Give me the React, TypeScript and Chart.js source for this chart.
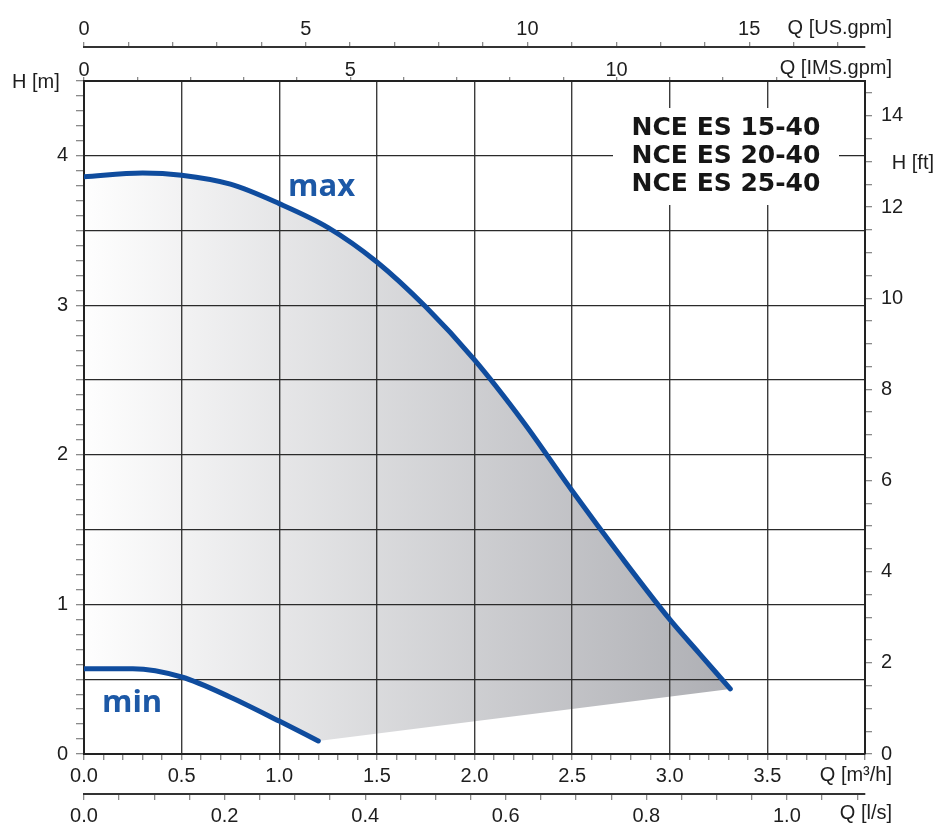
import React, { useEffect, useRef } from 'react';
import { Chart, registerables } from 'chart.js';

Chart.register(...registerables);

// ---------------- data ----------------
const maxQ = [0, 0.3, 0.5, 0.75, 1.0, 1.25, 1.5, 1.75, 2.0, 2.25, 2.5, 2.75, 3.0, 3.15, 3.31];
const maxH = [3.86, 3.885, 3.87, 3.81, 3.68, 3.52, 3.29, 2.99, 2.635, 2.22, 1.76, 1.32, 0.9, 0.675, 0.435];
const minQ = [0, 0.25, 0.5, 0.75, 1.0, 1.2];
const minH = [0.57, 0.57, 0.515, 0.38, 0.22, 0.087];

const modelNames = ['NCE ES 15-40', 'NCE ES 20-40', 'NCE ES 25-40'];
const curveNames = ['max', 'min'];

const m3hTickLabels = ['0.0', '0.5', '1.0', '1.5', '2.0', '2.5', '3.0', '3.5'];
const lsTickLabels = ['0.0', '0.2', '0.4', '0.6', '0.8', '1.0'];
const usGpmTickLabels = ['0', '5', '10', '15'];
const imsGpmTickLabels = ['0', '5', '10'];
const hmTickLabels = ['0', '1', '2', '3', '4'];
const hftTickLabels = ['0', '2', '4', '6', '8', '10', '12', '14'];

const unitM3h = 'Q [m³/h]';
const unitLs = 'Q [l/s]';
const unitUs = 'Q [US.gpm]';
const unitIms = 'Q [IMS.gpm]';
const unitHm = 'H [m]';
const unitHft = 'H [ft]';

const Q_MAX = 4;
const H_MAX = 4.5;
const US_GPM_PER_M3H = 4.40287;
const IMS_GPM_PER_M3H = 3.66615;
const LS_PER_M3H = 1 / 3.6;
const FT_PER_M = 3.28084;

// ---------------- style ----------------
const BLUE = '#0f4c9e';
const LABEL_BLUE = '#1c58a6';
const GRID = '#2a2a2a';
const VGRID = '#3c3c3c';
const TICK = '#8a8a8a';
const TEXT = '#1e1e1e';
const FONT = '"Liberation Sans", Arial, sans-serif';

function labelCb(labels: string[]) {
  return (v: any) => {
    const n = Number(v);
    const hit = labels.find((l) => Math.abs(parseFloat(l) - n) < 1e-6);
    return hit ?? '';
  };
}
function isMultiple(v: number, step: number) {
  const r = v / step;
  return Math.abs(r - Math.round(r)) < 1e-6;
}

const tickFont = { family: FONT, size: 20 };

const textPlugin = {
  id: 'pumpText',
  afterDraw(chart: any) {
    const { ctx, chartArea, scales } = chart;
    const xs = scales.x;
    const ys = scales.y;
    ctx.save();
    // unit labels
    ctx.font = `20px ${FONT}`;
    ctx.fillStyle = TEXT;
    ctx.textBaseline = 'middle';
    ctx.textAlign = 'right';
    const rx = chartArea.right + 27;
    ctx.fillText(unitUs, rx, scales.x3.bottom - 19);
    ctx.fillText(unitIms, rx, scales.x2.bottom - 13);
    ctx.fillText(unitM3h, rx, xs.bottom - 19);
    ctx.fillText(unitLs, rx, scales.x4.top + 19);
    ctx.fillText(unitHft, chart.width - 3, chartArea.top + 82);
    ctx.textAlign = 'left';
    ctx.fillText(unitHm, 12, chartArea.top + 1);

    // model title box
    const cx = chartArea.right - 139;
    ctx.fillStyle = '#ffffff';
    ctx.fillRect(cx - 113, chartArea.top + 27, 226, 97);
    ctx.fillStyle = '#161616';
    ctx.font = `bold 25px "DejaVu Sans", sans-serif`;
    ctx.textAlign = 'center';
    ctx.textBaseline = 'alphabetic';
    modelNames.forEach((t, i) => {
      ctx.fillText(t, cx, chartArea.top + 54 + i * 28);
    });

    // curve labels
    ctx.fillStyle = LABEL_BLUE;
    ctx.font = `bold 31px "Open Sans", sans-serif`;
    ctx.textAlign = 'left';
    ctx.fillText(curveNames[0], xs.getPixelForValue(1.045), ys.getPixelForValue(3.73));
    ctx.fillText(curveNames[1], xs.getPixelForValue(0.092), ys.getPixelForValue(0.281));
    ctx.restore();
  },
};

export default function App() {
  const ref = useRef<HTMLCanvasElement>(null);
  useEffect(() => {
    if (!ref.current) return;
    const maxPts = maxQ.map((q, i) => ({ x: q, y: maxH[i] }));
    const minPts = minQ.map((q, i) => ({ x: q, y: minH[i] }));
    const areaPts = [...maxPts, ...minPts.slice().reverse()];

    const chart = new Chart(ref.current, {
      type: 'line',
      data: {
        datasets: [
          {
            data: areaPts,
            fill: 'shape',
            borderWidth: 0,
            pointRadius: 0,
            tension: 0,
            order: 3,
            backgroundColor: (c: any) => {
              const ch = c.chart;
              if (!ch.chartArea) return '#dddddd';
              const x0 = ch.scales.x.getPixelForValue(0);
              const x1 = ch.scales.x.getPixelForValue(maxQ[maxQ.length - 1]);
              const g = ch.ctx.createLinearGradient(x0, 0, x1, 0);
              g.addColorStop(0, '#fefefe');
              g.addColorStop(1, '#aeafb4');
              return g;
            },
          } as any,
          {
            data: maxPts,
            borderColor: BLUE,
            borderWidth: 5,
            pointRadius: 0,
            fill: false,
            cubicInterpolationMode: 'monotone',
            borderCapStyle: 'round',
            order: 1,
          },
          {
            data: minPts,
            borderColor: BLUE,
            borderWidth: 5,
            pointRadius: 0,
            fill: false,
            cubicInterpolationMode: 'monotone',
            borderCapStyle: 'round',
            order: 1,
          },
        ],
      },
      options: {
        animation: false,
        responsive: false,
        events: [],
        layout: { padding: 0 },
        plugins: {
          legend: { display: false },
          tooltip: { enabled: false },
          filler: { drawTime: 'beforeDraw' },
        } as any,
        scales: {
          x: {
            type: 'linear',
            position: 'bottom',
            weight: 0,
            min: 0,
            max: Q_MAX,
            ticks: {
              stepSize: 0.1,
              autoSkip: false,
              maxRotation: 0,
              includeBounds: false,
              padding: 4,
              font: tickFont,
              color: TEXT,
              callback: labelCb(m3hTickLabels),
            },
            grid: {
              color: (c: any) => (c.tick && isMultiple(c.tick.value, 0.5) ? VGRID : 'rgba(0,0,0,0)'),
              tickColor: TICK,
              lineWidth: 1.4,
              tickLength: 6,
            },
            border: { display: true, color: '#222', width: 2 },
            afterFit: (s: any) => { s.height = 40; },
          },
          x4: {
            type: 'linear',
            position: 'bottom',
            weight: 1,
            min: 0,
            max: Q_MAX * LS_PER_M3H,
            ticks: {
              stepSize: 0.05,
              autoSkip: false,
              maxRotation: 0,
              includeBounds: false,
              padding: 4,
              font: tickFont,
              color: TEXT,
              callback: labelCb(lsTickLabels),
            },
            grid: { drawOnChartArea: false, color: TICK, tickColor: TICK, lineWidth: 1.3, tickLength: 6 },
            border: { display: true, color: '#333', width: 2 },
            afterFit: (s: any) => { s.height = 31; },
          },
          x2: {
            type: 'linear',
            position: 'top',
            weight: 0,
            min: 0,
            max: Q_MAX * IMS_GPM_PER_M3H,
            ticks: {
              stepSize: 1,
              autoSkip: false,
              maxRotation: 0,
              includeBounds: false,
              padding: -5,
              font: tickFont,
              color: TEXT,
              callback: labelCb(imsGpmTickLabels),
            },
            grid: { drawOnChartArea: false, color: TICK, tickColor: TICK, lineWidth: 1.3, tickLength: 4 },
            border: { display: true, color: '#222', width: 2 },
            afterFit: (s: any) => { s.height = 34; },
          },
          x3: {
            type: 'linear',
            position: 'top',
            weight: 1,
            min: 0,
            max: Q_MAX * US_GPM_PER_M3H,
            ticks: {
              stepSize: 1,
              autoSkip: false,
              maxRotation: 0,
              includeBounds: false,
              padding: 1,
              font: tickFont,
              color: TEXT,
              callback: labelCb(usGpmTickLabels),
            },
            grid: { drawOnChartArea: false, color: TICK, tickColor: TICK, lineWidth: 1.3, tickLength: 5 },
            border: { display: true, color: '#333', width: 2 },
            afterFit: (s: any) => { s.height = 47; },
          },
          y: {
            type: 'linear',
            position: 'left',
            min: 0,
            max: H_MAX,
            ticks: {
              stepSize: 0.1,
              autoSkip: false,
              includeBounds: false,
              padding: 8,
              font: tickFont,
              color: TEXT,
              callback: labelCb(hmTickLabels),
            },
            grid: {
              color: (c: any) => (c.tick && isMultiple(c.tick.value, 0.5) ? GRID : 'rgba(0,0,0,0)'),
              tickColor: TICK,
              lineWidth: 1.3,
              tickLength: 8,
            },
            border: { display: true, color: '#222', width: 2 },
            afterFit: (s: any) => { s.width = 84; },
          },
          y2: {
            type: 'linear',
            position: 'right',
            min: 0,
            max: H_MAX * FT_PER_M,
            ticks: {
              stepSize: 0.5,
              autoSkip: false,
              includeBounds: false,
              padding: 9,
              font: tickFont,
              color: TEXT,
              callback: labelCb(hftTickLabels),
            },
            grid: { drawOnChartArea: false, color: TICK, tickColor: TICK, lineWidth: 1.3, tickLength: 7 },
            border: { display: true, color: '#222', width: 2 },
            afterFit: (s: any) => { s.width = 72; },
          },
        } as any,
      },
      plugins: [textPlugin],
    });
    return () => chart.destroy();
  }, []);

  return (
    <div style={{ position: 'fixed', left: 0, top: 0, width: 937, height: 825, background: '#fff' }}>
      <canvas ref={ref} width={937} height={825} style={{ display: 'block', width: 937, height: 825 }} />
    </div>
  );
}
